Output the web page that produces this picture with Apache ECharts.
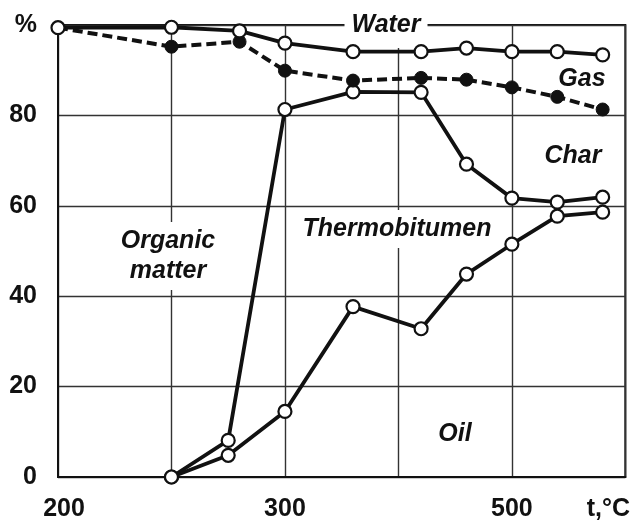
<!DOCTYPE html>
<html>
<head>
<meta charset="utf-8">
<script src="https://cdn.jsdelivr.net/npm/echarts@6/dist/echarts.min.js"></script>
<style>
  html, body { margin: 0; padding: 0; background: #fff; }
  #chart { width: 633px; height: 522px; }
</style>
</head>
<body>
<div id="chart"></div>
<script>
// Product yields (%) vs. temperature (°C)
const waterTemps = [200, 250, 280, 300, 360, 420, 460, 500, 540, 580];
const waterVals  = [99.4, 99.5, 98.7, 96.0, 94.1, 94.1, 94.9, 94.1, 94.1, 93.4];

const gasTemps = [200, 250, 280, 300, 360, 420, 460, 500, 540, 580];
const gasVals  = [99.4, 95.2, 96.3, 89.9, 87.7, 88.3, 87.9, 86.2, 84.1, 81.3];

const charTemps = [250, 275, 300, 360, 420, 460, 500, 540, 580];
const charVals  = [0, 8.1, 81.3, 85.2, 85.1, 69.2, 61.7, 60.8, 61.9];

const oilTemps = [250, 275, 300, 360, 420, 460, 500, 540, 580];
const oilVals  = [0, 4.8, 14.5, 37.7, 32.8, 44.9, 51.5, 57.7, 58.6];

// Tick labels of the temperature axis (by gridline position)
const xTickLabels = { 0: '200', 200: '300', 400: '500', 500: 't,°C' };
const yTickLabels = { 0: '0', 20: '20', 40: '40', 60: '60', 80: '80', 100: '%' };

// The temperature axis is stretched below 300 °C: 200–300 spans two gridline
// intervals (50 °C each), above 300 each interval is 100 °C.
function axisPos(t) {
  return t <= 300 ? (t - 200) * 2 : t - 100;
}
function pairs(temps, vals) {
  return temps.map((t, i) => [axisPos(t), vals[i]]);
}

const INK = '#111';
const noteFont = 'italic bold 25px "Liberation Sans", Arial, sans-serif';

const openSymbol = {
  symbol: 'circle', symbolSize: 13,
  itemStyle: { color: '#fff', borderColor: INK, borderWidth: 2.2 }
};

// Region names sit above the gridlines but under the curves
function note(text, x, y, pad) {
  return {
    type: 'text', x: x, y: y, z: 1,
    style: {
      text: text, font: noteFont, fill: INK,
      align: 'center', verticalAlign: 'middle', lineHeight: 30,
      backgroundColor: '#fff', padding: pad || [0, 3]
    }
  };
}

const chart = echarts.init(document.getElementById('chart'), null, { renderer: 'canvas' });
chart.setOption({
  animation: false,
  backgroundColor: '#fff',
  grid: {
    left: 58, right: 7, top: 25, bottom: 44,
    show: true, borderColor: INK, borderWidth: 2, backgroundColor: 'transparent'
  },
  xAxis: {
    type: 'value', min: 0, max: 500, interval: 100,
    axisLine: { show: true, lineStyle: { color: INK, width: 2 } },
    axisTick: { show: false },
    splitLine: { show: true, lineStyle: { color: '#333', width: 1.4 } },
    axisLabel: {
      margin: 20, color: INK, fontSize: 25, fontWeight: 'bold',
      fontFamily: '"Liberation Sans", Arial, sans-serif',
      showMinLabel: true, showMaxLabel: true,
      formatter: function (v) {
        const s = xTickLabels[v];
        if (s === undefined) return '';
        if (v === 0) return '{first|' + s + '}';
        if (v === 500) return '{last|' + s + '}';
        return s;
      },
      rich: {
        first: { fontSize: 25, fontWeight: 'bold', color: INK, padding: [0, 0, 0, 12],
                 fontFamily: '"Liberation Sans", Arial, sans-serif' },
        last: { fontSize: 25, fontWeight: 'bold', color: INK, padding: [0, 34, 0, 0],
                fontFamily: '"Liberation Sans", Arial, sans-serif' }
      }
    }
  },
  yAxis: {
    type: 'value', min: 0, max: 100, interval: 20,
    axisLine: { show: true, lineStyle: { color: INK, width: 2 } },
    axisTick: { show: false },
    splitLine: { show: true, lineStyle: { color: '#333', width: 1.4 } },
    axisLabel: {
      margin: 21, color: INK, fontSize: 25, fontWeight: 'bold',
      fontFamily: '"Liberation Sans", Arial, sans-serif',
      formatter: function (v) { return yTickLabels[v] !== undefined ? yTickLabels[v] : ''; }
    }
  },
  series: [
    Object.assign({
      name: 'Oil', type: 'line', data: pairs(oilTemps, oilVals), z: 3,
      lineStyle: { color: INK, width: 3.8 }
    }, openSymbol),
    Object.assign({
      name: 'Char', type: 'line', data: pairs(charTemps, charVals), z: 3,
      lineStyle: { color: INK, width: 3.8 }
    }, openSymbol),
    {
      name: 'Gas', type: 'line', data: pairs(gasTemps, gasVals), z: 4,
      symbol: 'circle', symbolSize: 13,
      itemStyle: { color: INK, borderColor: INK, borderWidth: 1 },
      lineStyle: { color: INK, width: 4, type: [10, 5] }
    },
    Object.assign({
      name: 'Water', type: 'line', data: pairs(waterTemps, waterVals), z: 5,
      lineStyle: { color: INK, width: 3.8 }
    }, openSymbol)
  ],
  graphic: [
    note('Water', 386, 25, [8, 7]),
    note('Gas', 582, 79),
    note('Char', 573, 156),
    note('Thermobitumen', 397, 229, [4, 4]),
    note('Organic\nmatter', 168, 256, [4, 4]),
    note('Oil', 455, 434)
  ]
});
</script>
</body>
</html>
